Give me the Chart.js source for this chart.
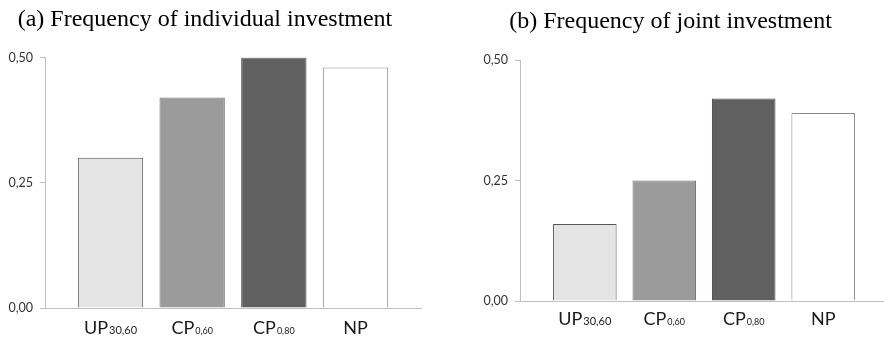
<!DOCTYPE html>
<html>
<head>
<meta charset="utf-8">
<script src="https://cdn.jsdelivr.net/npm/chart.js@4/dist/chart.umd.min.js"></script>
<style>
  html, body { margin: 0; padding: 0; background: #fff; overflow: hidden; width: 884px; height: 339px; }
  canvas { position: absolute; top: 0; }
  #individual { left: 0; }
  #joint { left: 440px; }
</style>
</head>
<body>
<canvas id="individual" width="440" height="339"></canvas>
<canvas id="joint" width="444" height="339"></canvas>
<script>
// Treatments: main label and its subscript
const categoryNames = ['UP', 'CP', 'CP', 'NP'];
const categorySubscripts = ['30,60', '0,60', '0,80', ''];

// Y axis tick values
const yTickValues = [0, 0.25, 0.5];

// Frequencies per treatment
const individualInvestment = [0.30, 0.42, 0.50, 0.48];
const jointInvestment = [0.16, 0.25, 0.42, 0.39];

const panelTitles = ['(a) Frequency of individual investment', '(b) Frequency of joint investment'];

const barFills = ['#e4e4e4', '#9b9b9b', '#606060', '#ffffff'];
const barEdges = ['#555555', '#707070', '#4d4d4d', '#8a8a8a'];

// Draws the panel heading and the subscripted category labels
const panelDecor = {
  id: 'panelDecor',
  afterDraw(chart, args, opts) {
    const ctx = chart.ctx;
    const xScale = chart.scales.x;
    const area = chart.chartArea;
    ctx.save();
    ctx.fillStyle = '#000';
    ctx.font = '24px "Liberation Serif"';
    ctx.textAlign = 'center';
    ctx.textBaseline = 'alphabetic';
    ctx.fillText(opts.title, opts.titleX, opts.titleY);

    ctx.fillStyle = '#1a1a1a';
    ctx.textAlign = 'left';
    categoryNames.forEach((name, i) => {
      const sub = categorySubscripts[i];
      const subFont = opts.subSizes[i] + 'px Lato';
      ctx.font = '18px Lato';
      const w1 = ctx.measureText(name).width;
      ctx.font = subFont;
      const w2 = sub ? ctx.measureText(sub).width + 1 : 0;
      const cx = xScale.getPixelForValue(i);
      const left = cx - (w1 + w2) / 2;
      const base = area.bottom + opts.labelOffset;
      ctx.font = '18px Lato';
      ctx.fillText(name, left, base);
      if (sub) {
        ctx.font = subFont;
        ctx.fillText(sub, left + w1 + 1, base);
      }
    });
    ctx.restore();
  }
};

function makeChart(id, values, cfg) {
  return new Chart(document.getElementById(id), {
    type: 'bar',
    data: {
      datasets: [{
        data: values.map((v, i) => ({ x: i, y: v })),
        backgroundColor: barFills,
        borderColor: barEdges,
        borderWidth: 1,
        categoryPercentage: 1,
        barPercentage: 0.8
      }]
    },
    options: {
      responsive: false,
      animation: false,
      devicePixelRatio: 1,
      layout: { padding: cfg.padding },
      plugins: {
        legend: { display: false },
        tooltip: { enabled: false },
        title: { display: false },
        panelDecor: {
          title: cfg.title,
          titleX: cfg.titleX,
          titleY: cfg.titleY,
          labelOffset: cfg.labelOffset,
          subSizes: [11, 9, 9, 9]
        }
      },
      scales: {
        x: {
          type: 'linear',
          offset: false,
          min: cfg.xMin,
          max: cfg.xMax,
          afterBuildTicks(scale) { scale.ticks = categoryNames.map((n, i) => ({ value: i })); },
          grid: { display: false, offset: false },
          ticks: { display: false },
          border: { display: true, color: '#bfbfbf', width: 1 },
          afterFit(scale) { scale.height = cfg.xHeight; }
        },
        y: {
          min: 0,
          max: 0.5,
          afterBuildTicks(scale) { scale.ticks = yTickValues.map(v => ({ value: v })); },
          ticks: {
            callback: v => Number(v).toFixed(2).replace('.', ','),
            font: { family: 'Lato', size: 12.5 },
            color: '#333333',
            padding: 7
          },
          grid: { drawOnChartArea: false, drawTicks: true, tickLength: 5, color: '#bfbfbf' },
          border: { display: true, color: '#bfbfbf', width: 1 },
          afterFit(scale) { scale.width = cfg.yWidth; }
        }
      }
    },
    plugins: [panelDecor]
  });
}

makeChart('individual', individualInvestment, {
  title: panelTitles[0], titleX: 205, titleY: 26,
  padding: { top: 57.5, right: 19, bottom: 0, left: 0 },
  xMin: -0.802, xMax: 3.802, xHeight: 31, yWidth: 45, labelOffset: 26
});

makeChart('joint', jointInvestment, {
  title: panelTitles[1], titleX: 230.5, titleY: 28,
  padding: { top: 60, right: 1, bottom: 0, left: 0 },
  xMin: -0.816, xMax: 3.753, xHeight: 38, yWidth: 80, labelOffset: 24
});
</script>
</body>
</html>
